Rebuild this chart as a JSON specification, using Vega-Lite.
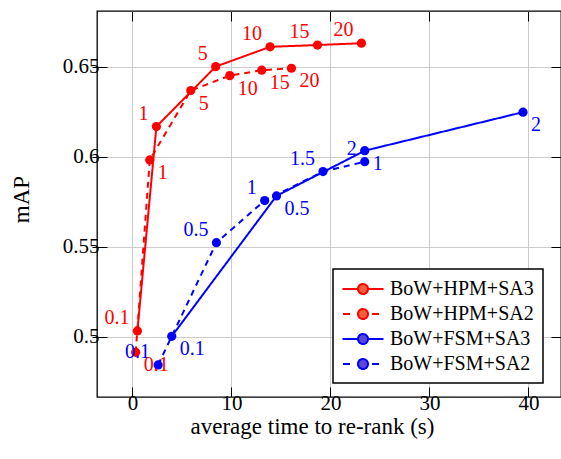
{
  "$schema": "https://vega.github.io/schema/vega-lite/v6.json",
  "width": 464,
  "height": 386,
  "autosize": {"type": "none"},
  "padding": {"left": 97, "top": 11, "right": 0, "bottom": 62},
  "background": "white",
  "config": {
    "font": "Liberation Serif",
    "view": {"stroke": "black", "strokeWidth": 1.3},
    "axis": {
      "labelFont": "Liberation Serif",
      "titleFont": "Liberation Serif",
      "labelColor": "black",
      "titleColor": "black",
      "titleFontWeight": "normal",
      "domain": false,
      "tickColor": "black",
      "tickWidth": 1,
      "gridColor": "#cccccc",
      "gridWidth": 1
    }
  },
  "datasets": {
    "pts": [
      {"series": "BoW+HPM+SA3", "method": "HPM", "variant": "SA3", "t": 0.5, "map": 0.5032, "label": "0.1"},
      {"series": "BoW+HPM+SA3", "method": "HPM", "variant": "SA3", "t": 2.42, "map": 0.6167, "label": "1"},
      {"series": "BoW+HPM+SA3", "method": "HPM", "variant": "SA3", "t": 8.41, "map": 0.65, "label": "5"},
      {"series": "BoW+HPM+SA3", "method": "HPM", "variant": "SA3", "t": 13.9, "map": 0.661, "label": "10"},
      {"series": "BoW+HPM+SA3", "method": "HPM", "variant": "SA3", "t": 18.69, "map": 0.662, "label": "15"},
      {"series": "BoW+HPM+SA3", "method": "HPM", "variant": "SA3", "t": 23.13, "map": 0.663, "label": "20"},
      {"series": "BoW+HPM+SA2", "method": "HPM", "variant": "SA2", "t": 0.33, "map": 0.4913, "label": "0.1"},
      {"series": "BoW+HPM+SA2", "method": "HPM", "variant": "SA2", "t": 1.75, "map": 0.5982, "label": "1"},
      {"series": "BoW+HPM+SA2", "method": "HPM", "variant": "SA2", "t": 5.89, "map": 0.6367, "label": "5"},
      {"series": "BoW+HPM+SA2", "method": "HPM", "variant": "SA2", "t": 9.83, "map": 0.645, "label": "10"},
      {"series": "BoW+HPM+SA2", "method": "HPM", "variant": "SA2", "t": 13.06, "map": 0.648, "label": "15"},
      {"series": "BoW+HPM+SA2", "method": "HPM", "variant": "SA2", "t": 16.06, "map": 0.6491, "label": "20"},
      {"series": "BoW+FSM+SA3", "method": "FSM", "variant": "SA3", "t": 3.97, "map": 0.5002, "label": "0.1"},
      {"series": "BoW+FSM+SA3", "method": "FSM", "variant": "SA3", "t": 14.55, "map": 0.5782, "label": "0.5"},
      {"series": "BoW+FSM+SA3", "method": "FSM", "variant": "SA3", "t": 23.46, "map": 0.6033, "label": "1"},
      {"series": "BoW+FSM+SA3", "method": "FSM", "variant": "SA3", "t": 39.45, "map": 0.6247, "label": "2"},
      {"series": "BoW+FSM+SA2", "method": "FSM", "variant": "SA2", "t": 2.59, "map": 0.4843, "label": "0.1"},
      {"series": "BoW+FSM+SA2", "method": "FSM", "variant": "SA2", "t": 8.48, "map": 0.5522, "label": "0.5"},
      {"series": "BoW+FSM+SA2", "method": "FSM", "variant": "SA2", "t": 13.36, "map": 0.5756, "label": "1"},
      {"series": "BoW+FSM+SA2", "method": "FSM", "variant": "SA2", "t": 19.25, "map": 0.5917, "label": "1.5"},
      {"series": "BoW+FSM+SA2", "method": "FSM", "variant": "SA2", "t": 23.46, "map": 0.5972, "label": "2"}
    ]
  },
  "data": {"name": "pts"},
  "resolve": {"axis": {"x": "independent", "y": "independent"}},
  "encoding": {
    "x": {
      "field": "t", "type": "quantitative",
      "scale": {"domain": [-3.58, 43.29], "nice": false, "zero": false},
      "axis": null
    },
    "y": {
      "field": "map", "type": "quantitative",
      "scale": {"domain": [0.4665, 0.6809], "nice": false, "zero": false},
      "axis": null
    }
  },
  "layer": [
    {
      "mark": {"type": "rule", "opacity": 0},
      "encoding": {
        "x": {
          "field": "t", "type": "quantitative",
          "scale": {"domain": [-3.58, 43.29], "nice": false, "zero": false},
          "axis": {"orient": "top", "values": [0, 10, 20, 30, 40], "labels": false, "title": null, "grid": false, "tickSize": -10}
        },
        "y": {
          "field": "map", "type": "quantitative",
          "scale": {"domain": [0.4665, 0.6809], "nice": false, "zero": false},
          "axis": {"orient": "right", "values": [0.5, 0.55, 0.6, 0.65], "labels": false, "title": null, "grid": false, "tickSize": -10}
        }
      }
    },
    {
      "mark": {"type": "rule", "opacity": 0},
      "encoding": {
        "y": {
          "field": "map", "type": "quantitative",
          "scale": {"domain": [0.4665, 0.6809], "nice": false, "zero": false},
          "axis": {"orient": "left", "values": [0.5, 0.55, 0.6, 0.65], "labels": false, "title": null, "grid": false, "tickSize": 5}
        }
      }
    },
    {
      "mark": {"type": "line", "strokeWidth": 2},
      "encoding": {
        "x": {
          "field": "t", "type": "quantitative",
          "scale": {"domain": [-3.58, 43.29], "nice": false, "zero": false},
          "axis": {
            "title": "average time to re-rank (s)",
            "values": [0, 10, 20, 30, 40], "format": "d",
            "grid": true, "tickSize": -10,
            "labelFontSize": 21, "labelPadding": 5,
            "titleFontSize": 23, "titlePadding": 2, "titleX": 215
          }
        },
        "y": {
          "field": "map", "type": "quantitative",
          "scale": {"domain": [0.4665, 0.6809], "nice": false, "zero": false},
          "axis": {
            "title": "mAP",
            "values": [0.5, 0.55, 0.6, 0.65], "format": "~g",
            "grid": true, "tickSize": -10,
            "labelFontSize": 21, "labelPadding": 8,
            "titleFontSize": 23, "titleX": -76, "titleY": 188,
            "titleAngle": -90, "titleAlign": "center", "titleBaseline": "middle"
          }
        },
        "stroke": {
          "field": "series", "type": "nominal",
          "scale": {
            "domain": ["BoW+HPM+SA3", "BoW+HPM+SA2", "BoW+FSM+SA3", "BoW+FSM+SA2"],
            "range": ["#ff0000", "#ff0000", "#0000ff", "#0000ff"]
          },
          "legend": {
            "title": null,
            "orient": "none",
            "legendX": 236,
            "legendY": 258,
            "padding": 9,
            "strokeColor": "black",
            "fillColor": "white",
            "cornerRadius": 0,
            "labelFont": "Liberation Serif",
            "labelFontSize": 20,
            "labelColor": "black",
            "symbolSize": 400,
            "symbolStrokeWidth": 2,
            "symbolOffset": 10,
            "labelOffset": 16,
            "rowPadding": 4,
            "symbolOpacity": 1,
            "encode": {
              "legend": {"update": {"strokeWidth": {"value": 1.5}}},
              "symbols": {
                "update": {
                  "shape": {"signal": "indexof(datum.value, 'SA2') >= 0 ? 'M-2,0H-1.3M0.9,0H1.6M0.5,0A0.5,0.5,0,1,1,-0.5,0A0.5,0.5,0,1,1,0.5,0Z' : 'M-2.05,0H-0.5M0.5,0H2.05M0.5,0A0.5,0.5,0,1,1,-0.5,0A0.5,0.5,0,1,1,0.5,0Z'"},
                  "fill": {"signal": "indexof(datum.value, 'HPM') >= 0 ? '#f0603a' : '#5a48d0'"},
                  "fillOpacity": {"value": 1},
                  "strokeDash": {"value": [1, 0]}
                }
              }
            }
          }
        },
        "strokeDash": {
          "field": "variant", "type": "nominal",
          "scale": {"domain": ["SA3", "SA2"], "range": [[1, 0], [6, 5]]},
          "legend": null
        }
      }
    },
    {
      "mark": {"type": "point", "filled": true, "shape": "circle", "size": 85, "opacity": 1, "strokeWidth": 0},
      "encoding": {
        "fill": {
          "field": "method", "type": "nominal",
          "scale": {"domain": ["HPM", "FSM"], "range": ["#ff0000", "#0000ff"]},
          "legend": null
        }
      }
    },
    {
      "transform": [{"filter": {"field": "series", "oneOf": ["BoW+HPM+SA3", "BoW+FSM+SA2"]}}],
      "mark": {"type": "text", "font": "Liberation Serif", "fontSize": 20, "align": "right", "baseline": "middle", "dx": -8, "dy": -13},
      "encoding": {
        "text": {"field": "label"},
        "fill": {
          "field": "method", "type": "nominal",
          "scale": {"domain": ["HPM", "FSM"], "range": ["#ff0000", "#0000ff"]},
          "legend": null
        }
      }
    },
    {
      "transform": [{"filter": {"field": "series", "oneOf": ["BoW+HPM+SA2", "BoW+FSM+SA3"]}}],
      "mark": {"type": "text", "font": "Liberation Serif", "fontSize": 20, "align": "left", "baseline": "middle", "dx": 8, "dy": 13},
      "encoding": {
        "text": {"field": "label"},
        "fill": {
          "field": "method", "type": "nominal",
          "scale": {"domain": ["HPM", "FSM"], "range": ["#ff0000", "#0000ff"]},
          "legend": null
        }
      }
    }
  ]
}
